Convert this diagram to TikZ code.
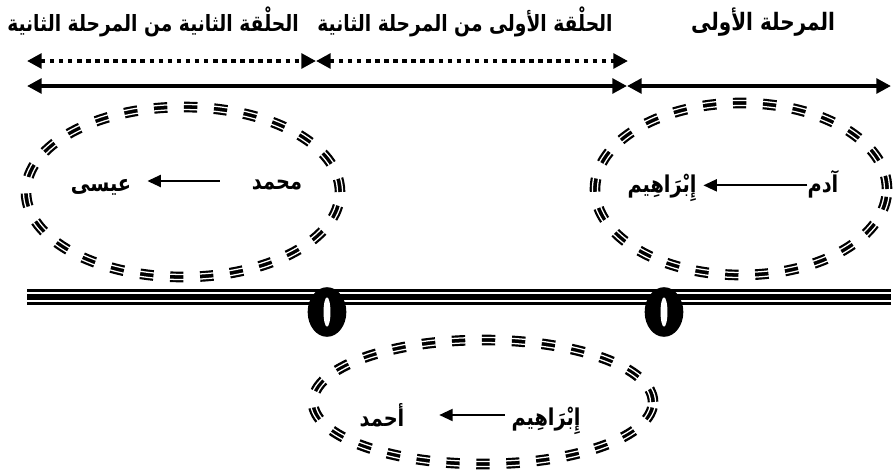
\documentclass[tikz,border=0pt]{standalone}
\usepackage{fontspec}
\newfontfamily\arabicfont[Script=Arabic]{DejaVu Sans}
\TeXXeTstate=1
\usetikzlibrary{arrows.meta}
\newcommand\artxt[1]{\scalebox{1}[1.2]{\beginR #1\endR}}
\tikzset{
  toplabel/.style={inner sep=0pt, font=\arabicfont\bfseries\fontsize{14}{17}\selectfont},
  toplabelbig/.style={inner sep=0pt, font=\arabicfont\bfseries\fontsize{15}{18}\selectfont},
  inlabel/.style={inner sep=0pt, font=\arabicfont\bfseries\fontsize{14.5}{17}\selectfont},
  bigarrow/.style={line width=3.2pt, {Triangle[length=11pt,width=11pt]}-{Triangle[length=11pt,width=11pt]}},
  dotarrow/.style={line width=3.6pt, dash pattern=on 3.4pt off 3.4pt, {Triangle[length=11pt,width=11pt]}-{Triangle[length=11pt,width=11pt]}},
  smallarrow/.style={line width=1.4pt, -{Triangle[length=10pt,width=9pt]}},
  bandblack/.style={line width=8pt, dash pattern=on 10pt off 12.5pt},
  bandwhite/.style={white, line width=0.95pt},
}
\newcommand\tribandellipse[3]{%
  \draw[bandblack] (#1) ellipse [x radius=#2pt, y radius=#3pt];
  \draw[bandwhite] (#1) ellipse [x radius=#2pt+1.9pt, y radius=#3pt+1.9pt];
  \draw[bandwhite] (#1) ellipse [x radius=#2pt-1.9pt, y radius=#3pt-1.9pt];
}
\begin{document}
\begin{tikzpicture}[x=0.75pt,y=-0.75pt]
\useasboundingbox (0,0) rectangle (896,472);

% top labels
\node[toplabel] (t3) at (153,22) {\artxt{الحلْقة الثانية من المرحلة الثانية}};
\node[toplabel] (t2) at (465,22) {\artxt{الحلْقة الأولى من المرحلة الثانية}};
\node[toplabelbig] (t1) at (763,22) {\artxt{المرحلة الأولى}};

% arrow end points
\coordinate (dl) at (27,61);
\coordinate (dm) at (316,61);
\coordinate (dr) at (628,61);
\coordinate (sl) at (27,86);
\coordinate (sm) at (627,86);
\coordinate (sr) at (891,86);

\draw[dotarrow] (dl) -- (dm);
\draw[dotarrow] (dm) -- (dr);
\draw[bigarrow] (sl) -- (sm);
\draw[bigarrow] (sm) -- (sr);

% ellipses
\coordinate (eL) at (183,192);
\coordinate (eR) at (741,189);
\coordinate (eB) at (483,402);
\tribandellipse{eL}{117.75}{63.75}
\tribandellipse{eR}{109.5}{64.5}
\tribandellipse{eB}{127.5}{46.5}

% triple line
\coordinate (lineL) at (27,297);
\coordinate (lineR) at (891,297);
\draw[line width=1.9pt] ([yshift=4.8pt]lineL) -- ([yshift=4.8pt]lineR);
\draw[line width=3.8pt] (lineL) -- (lineR);
\draw[line width=2pt] ([yshift=-5pt]lineL) -- ([yshift=-5pt]lineR);

% rings
\coordinate (r1) at (327,312);
\coordinate (r2) at (664,312);
\foreach \r in {r1,r2}{
  \fill[black] (\r) ellipse [x radius=14.5pt, y radius=18.6pt];
  \fill[white] (\r) ellipse [x radius=2.6pt, y radius=11pt];
}

% left ellipse text
\node[inlabel] (muh) at (277,185) {\artxt{محمد}};
\node[inlabel] (isa) at (101,187) {\artxt{عيسى}};
\draw[smallarrow] ([xshift=-24pt,yshift=3pt]muh.west) -- ([xshift=12pt,yshift=3pt]muh.west -| isa.east);

% right ellipse text
\node[inlabel] (adam) at (823,184) {\artxt{آدم}};
\node[inlabel] (ibr1) at (662,188) {\artxt{إِبْرَاهِيم}};
\draw[smallarrow] ([yshift=-1pt]adam.west) -- ([yshift=-1pt,xshift=5pt]adam.west -| ibr1.east);

% bottom ellipse text
\node[inlabel] (ibr2) at (546,421) {\artxt{إِبْرَاهِيم}};
\node[inlabel] (ahm) at (382,415) {\artxt{أحمد}};
\draw[smallarrow] ([xshift=-5pt]ibr2.west |- ahm.center) -- ([xshift=26pt]ahm.east);
\end{tikzpicture}
\end{document}
